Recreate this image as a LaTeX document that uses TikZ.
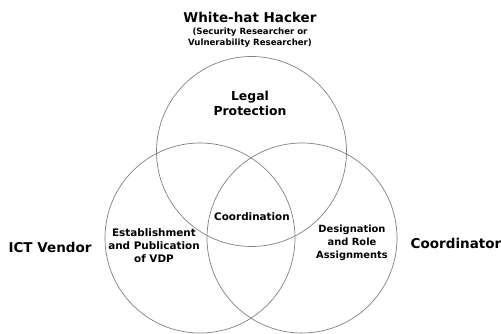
\documentclass[tikz,border=0pt]{standalone}
\usepackage{fontspec}
\setmainfont{DejaVu Sans}
\newcommand{\venncircle}[3]{%
\node[venn] (#1) at (#2,#3) {};
}
\newcommand{\namepart}[5][]{%
\node[part,#1] (#2) at (#3,#4) {#5};
}

\begin{document}
\begin{tikzpicture}[x=1pt,y=-1pt]
\useasboundingbox (0,0) rectangle (501,334);

\tikzstyle{venn}=[draw=black!50,line width=0.7pt,circle,minimum size=190pt,inner sep=0pt]
\tikzstyle{part}=[align=center,inner sep=0pt,font=\bfseries\fontsize{10.4}{13}\selectfont]
\tikzstyle{actor}=[align=center,inner sep=0pt,font=\bfseries\fontsize{13.5}{16}\selectfont]

% circles
\venncircle{cHacker}{251.5}{151.5}
\venncircle{cVendor}{200}{238}
\venncircle{cCoord}{302}{238}

% actors
\node[actor] (hacker) at (250,17) {White-hat Hacker};
\node[align=center,inner sep=0pt,font=\bfseries\fontsize{8.6}{11}\selectfont]
  (hackersub) at (250,37.5) {(Security Researcher or\\Vulnerability Researcher)};
\node[actor] (vendor) at (50,247) {ICT Vendor};
\node[actor] (coordinator) at (456,243) {Coordinator};

% parts
\namepart[font=\bfseries\fontsize{12.4}{15}\selectfont]{legal}{250}{103.5}{Legal\\Protection}
\namepart{coordination}{252}{217}{Coordination}
\namepart{vdp}{154}{246}{Establishment\\and Publication\\of VDP}
\namepart[font=\bfseries\fontsize{9.9}{13}\selectfont]{roles}{352}{243}{Designation\\and Role\\Assignments}

\end{tikzpicture}
\end{document}
